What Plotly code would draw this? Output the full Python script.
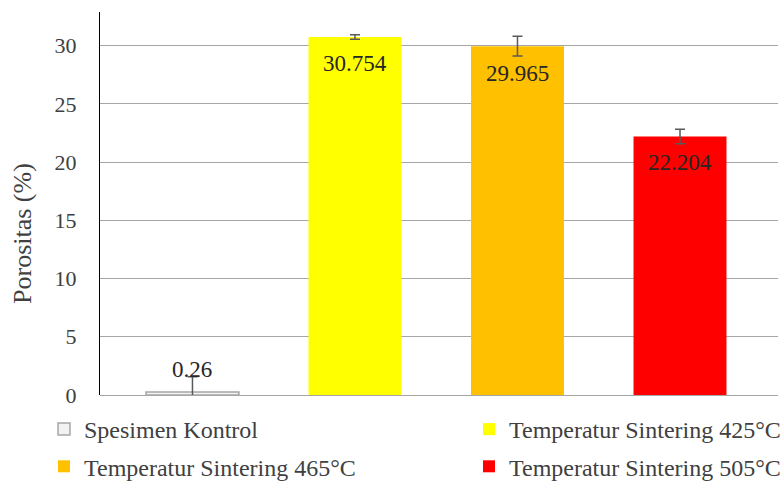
import plotly.graph_objects as go

categories = ["Spesimen Kontrol", "Temperatur Sintering 425°C",
              "Temperatur Sintering 465°C", "Temperatur Sintering 505°C"]
values = [0.26, 30.754, 29.965, 22.204]
errors = [1.3, 0.2, 0.85, 0.62]
labels = ["0.26", "30.754", "29.965", "22.204"]
colors = ["#f2f2f2", "#ffff00", "#ffc000", "#ff0000"]
outlines = ["#a6a6a6", "#ffff00", "#ffc000", "#ff0000"]
legend_ids = ["legend", "legend2", "legend", "legend2"]
label_shift = [22, -27, -27, -26]
y_ticks = [0, 5, 10, 15, 20, 25, 30]
y_title = "Porositas (%)"

FONT = "Liberation Serif"

fig = go.Figure()
for i, name in enumerate(categories):
    fig.add_trace(go.Bar(
        x=[name], y=[values[i]], name=name,
        width=0.572, legend=legend_ids[i], legendgroup=name,
        marker=dict(color=colors[i], line=dict(color=outlines[i], width=1.5 if i == 0 else 0)),
        error_y=dict(type="data", array=[errors[i]], visible=True,
                     color="#595959", thickness=1.5, width=5),
    ))
    fig.add_annotation(x=name, y=values[i], text=labels[i], showarrow=False,
                       yshift=label_shift[i], font=dict(family=FONT, size=23, color="#262626"))

# y-axis title
fig.add_annotation(xref="paper", yref="paper", x=-0.1136, y=0.423, text=y_title,
                   textangle=-90, showarrow=False, xanchor="center", yanchor="middle",
                   font=dict(family=FONT, size=26, color="#404040"))

leg_common = dict(orientation="v", yanchor="top", xanchor="left",
                  xref="container", yref="container",
                  font=dict(family=FONT, size=24, color="#404040"),
                  itemwidth=30, tracegroupgap=3, bgcolor="rgba(0,0,0,0)")

fig.update_layout(
    width=782, height=481,
    margin=dict(l=100, r=4, t=12, b=86, autoexpand=False),
    paper_bgcolor="white", plot_bgcolor="white",
    barmode="overlay",
    showlegend=True,
    legend=dict(x=44 / 782, y=1 - 407 / 481, **leg_common),
    legend2=dict(x=469 / 782, y=1 - 407 / 481, **leg_common),
    font=dict(family=FONT, color="#404040"),
)
fig.update_xaxes(type="category", categoryorder="array", categoryarray=categories,
                 range=[-0.569, 3.603], showticklabels=False, showgrid=False,
                 zeroline=False, showline=False, ticks="")
fig.update_yaxes(range=[0, 32.9], tickvals=y_ticks, ticktext=[str(t) for t in y_ticks],
                 showgrid=True, gridcolor="#a6a6a6", gridwidth=1.3,
                 zeroline=True, zerolinecolor="#a6a6a6", zerolinewidth=1.3,
                 showline=True, linecolor="black", linewidth=1.3,
                 ticks="outside", ticklen=18, tickcolor="rgba(0,0,0,0)",
                 tickfont=dict(family=FONT, size=22, color="#404040"))

fig.write_html("out.html", config={"displayModeBar": False},
               post_script="document.body.style.margin='0px';")
